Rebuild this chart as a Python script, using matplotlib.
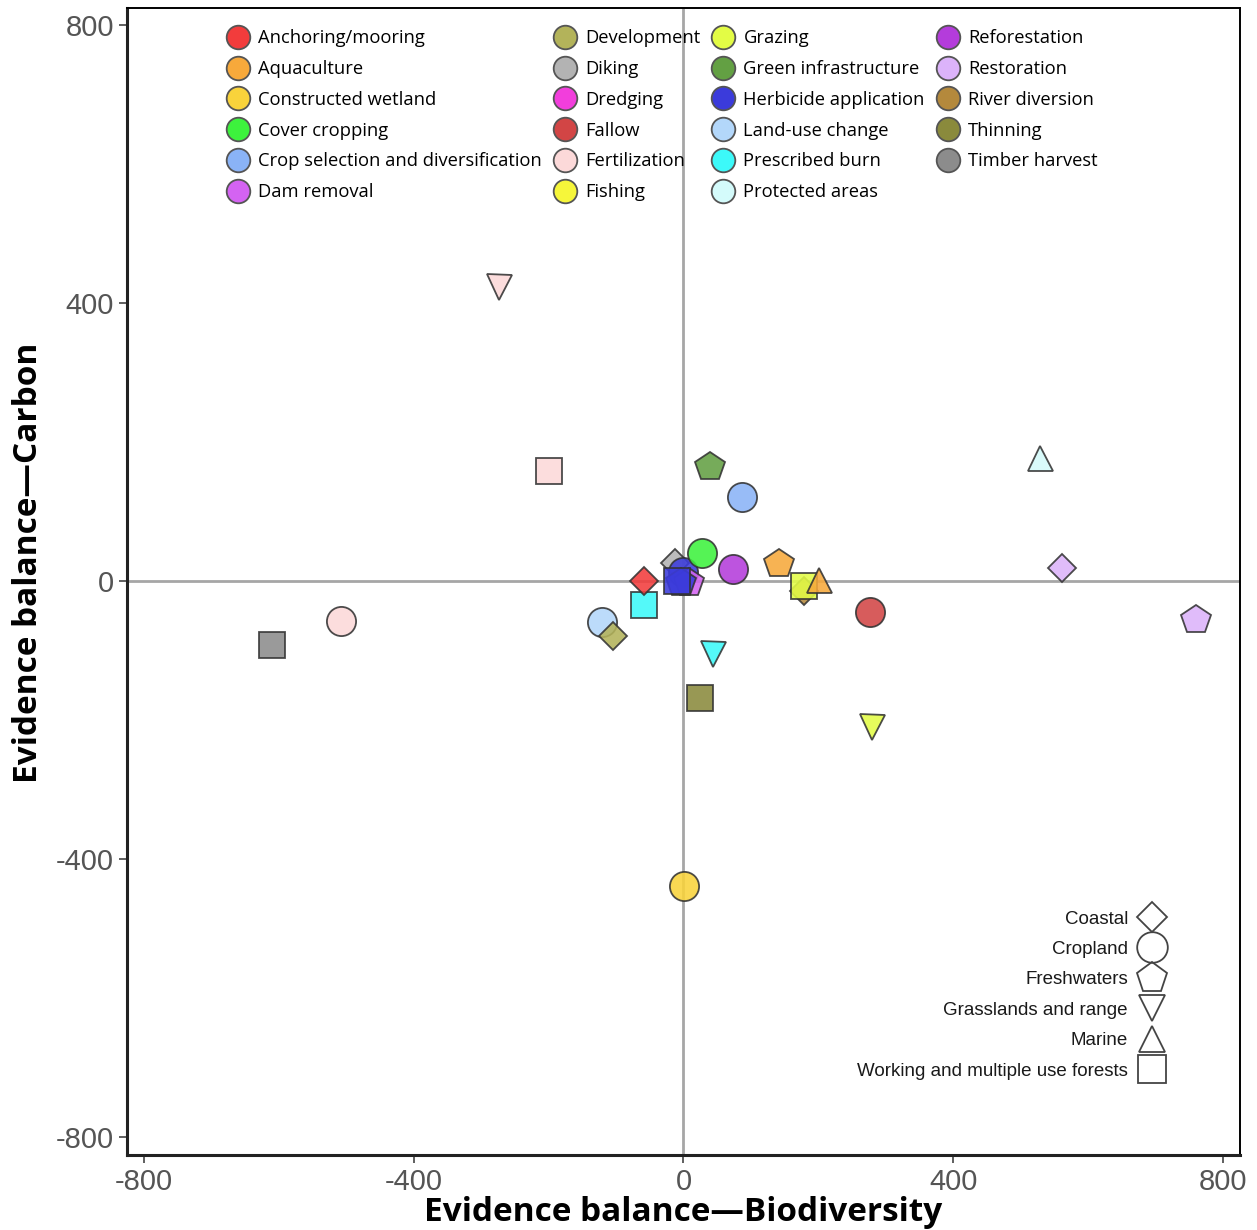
import matplotlib
matplotlib.use('Agg')
from matplotlib import pyplot as plt
from matplotlib.lines import Line2D

plt.rcParams['axes.unicode_minus'] = False

# practice colours (legend order)
practices = ['Anchoring/mooring', 'Aquaculture', 'Constructed wetland', 'Cover cropping',
             'Crop selection and diversification', 'Dam removal',
             'Development', 'Diking', 'Dredging', 'Fallow', 'Fertilization', 'Fishing',
             'Grazing', 'Green infrastructure', 'Herbicide application', 'Land-use change',
             'Prescribed burn', 'Protected areas',
             'Reforestation', 'Restoration', 'River diversion', 'Thinning', 'Timber harvest']
colors = ['#F23C3C', '#F7A93B', '#F9D33B', '#3DF23D', '#8AB3F6', '#D463F2',
          '#B3B35A', '#B3B3B3', '#F23EDC', '#D24545', '#FCD9D9', '#F6F63A',
          '#E3FC45', '#63A043', '#3B3BDB', '#B3D7FA', '#3CF9F9', '#D4FBFB',
          '#B43CDB', '#DCB3FA', '#B4893C', '#8A8A3C', '#8C8C8C']

habitats = ['Coastal', 'Cropland', 'Freshwaters', 'Grasslands and range', 'Marine',
            'Working and multiple use forests']
hab_markers = {'Coastal': 'D', 'Cropland': 'o', 'Freshwaters': 'p',
               'Grasslands and range': 'v', 'Marine': '^',
               'Working and multiple use forests': 's'}
hab_sizes = {'D': 14.5, 'o': 21, 'p': 22, 'v': 18, '^': 18, 's': 19}

# one point per practice x habitat
pt_practice = ['Fertilization', 'Fertilization', 'Green infrastructure', 'Crop selection and diversification',
               'Protected areas', 'Restoration', 'Restoration', 'Timber harvest', 'Fertilization',
               'Land-use change', 'Development', 'Prescribed burn', 'Anchoring/mooring', 'Diking',
               'Herbicide application', 'Dam removal', 'Herbicide application', 'Herbicide application',
               'Cover cropping', 'Reforestation', 'Aquaculture', 'River diversion', 'Grazing',
               'Aquaculture', 'Fallow', 'Prescribed burn', 'Thinning', 'Grazing', 'Constructed wetland']
pt_habitat = ['Grasslands and range', 'Working and multiple use forests', 'Freshwaters', 'Cropland',
              'Marine', 'Coastal', 'Freshwaters', 'Working and multiple use forests', 'Cropland',
              'Cropland', 'Coastal', 'Working and multiple use forests', 'Coastal', 'Coastal',
              'Cropland', 'Freshwaters', 'Freshwaters', 'Working and multiple use forests',
              'Cropland', 'Cropland', 'Freshwaters', 'Coastal', 'Working and multiple use forests',
              'Marine', 'Cropland', 'Grasslands and range', 'Working and multiple use forests',
              'Grasslands and range', 'Cropland']
biodiversity = [-273, -199, 40, 87, 529, 561, 760, -610, -507, -121, -105, -58, -59, -13,
                -1, 8, -4, -10, 28, 73, 141, 178, 178, 201, 276, 44, 25, 279, 1]
carbon = [422, 158, 163, 121, 177, 19, -56, -92, -58, -60, -79, -35, 0, 26,
          12, -3, -3, 0, 40, 17, 24, -14, -7, 1, -45, -106, -168, -210, -439]

col = dict(zip(practices, colors))

fig = plt.figure(figsize=(12.57, 12.30), dpi=100)
ax = fig.add_axes([0.101, 0.061, 0.8855, 0.9325])
ax.set_xlim(-825, 825)
ax.set_ylim(-826, 824)

ax.axhline(0, color='#A6A6A6', lw=2, zorder=1)
ax.axvline(0, color='#A6A6A6', lw=2, zorder=1)

for p, h, x, y in zip(pt_practice, pt_habitat, biodiversity, carbon):
    m = hab_markers[h]
    ax.plot(x, y, marker=m, ms=hab_sizes[m], color=col[p], alpha=0.88,
            mec='#333333', mew=1.3, ls='none', zorder=3)

ax.set_xticks([-800, -400, 0, 400, 800])
ax.set_yticks([-800, -400, 0, 400, 800])
ax.tick_params(axis='both', direction='out', length=6, width=1.2, color='#444444',
               labelcolor='#555555', labelsize=21)
for lab in ax.get_xticklabels() + ax.get_yticklabels():
    lab.set_family('Liberation Sans')
for s in ['left', 'bottom']:
    ax.spines[s].set_linewidth(2.2)
    ax.spines[s].set_color('#222222')
for s in ['right', 'top']:
    ax.spines[s].set_linewidth(1.4)

lab_font = dict(family='Open Sans', weight='bold', size=24)
ax.set_xlabel('Evidence balance\u2014Biodiversity', labelpad=0, **lab_font)
ax.set_ylabel('Evidence balance\u2014Carbon', **lab_font)
ax.yaxis.set_label_coords(-0.074, 0.516)

# practice legend
p_handles = [Line2D([], [], marker='o', ls='none', ms=17, color=c, mec='#555555', mew=1.3)
             for c in colors]
leg1 = ax.legend(p_handles, practices, ncol=4, loc='upper left', bbox_to_anchor=(0.085, 0.988),
                 frameon=False, prop={'family': 'Open Sans', 'size': 13.2},
                 handlelength=1.0, handletextpad=0.6, columnspacing=0.75,
                 labelspacing=0.7, borderaxespad=0)
ax.add_artist(leg1)

# habitat legend
h_handles = [Line2D([], [], marker=hab_markers[h], ls='none', ms=hab_sizes[hab_markers[h]] * 1.05,
                    mfc='none', mec='#444444', mew=1.3) for h in habitats]
leg2 = ax.legend(h_handles, habitats, loc='lower right', bbox_to_anchor=(0.938, 0.059),
                 frameon=False, markerfirst=False, prop={'family': 'Liberation Sans', 'size': 13.5},
                 handlelength=1.2, handletextpad=0.7, labelspacing=0.71, borderaxespad=0)
for t in leg2.get_texts():
    t.set_color('#1A1A1A')

plt.savefig('out.png')
plt.close()
